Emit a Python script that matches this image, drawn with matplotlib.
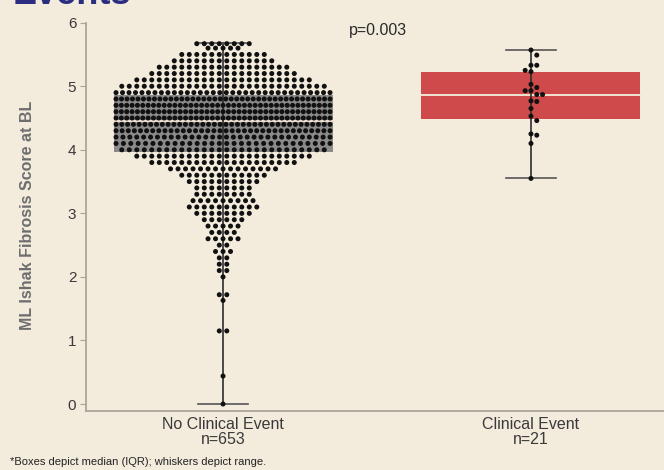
import numpy as np
import matplotlib
matplotlib.use("Agg")
import matplotlib.pyplot as plt
from matplotlib.patches import Rectangle

plt.rcParams['font.family'] = ['Liberation Sans', 'DejaVu Sans']

# ----------------------------------------------------------------------
# data
# ----------------------------------------------------------------------
groups = ["No Clinical Event", "Clinical Event"]
group_n = [653, 21]

# no-event group: score level -> number of patients at that level
no_event_levels = [5.67, 5.6, 5.5, 5.4, 5.3, 5.2, 5.1, 5.0, 4.9,
                   4.8, 4.7, 4.6, 4.5, 4.4, 4.3, 4.2, 4.1, 4.0,
                   3.9, 3.8, 3.7, 3.6, 3.5, 3.4, 3.3, 3.2, 3.1, 3.0,
                   2.9, 2.8, 2.7, 2.6, 2.5, 2.4, 2.3, 2.2, 2.1, 2.0,
                   1.72, 1.63, 1.15, 0.44, 0.0]
no_event_counts = [8, 5, 12, 14, 18, 20, 24, 28, 34,
                   40, 41, 41, 41, 38, 36, 32, 30, 28,
                   24, 20, 15, 12, 10, 8, 8, 9, 10, 8,
                   6, 5, 4, 5, 2, 3, 2, 2, 2, 1,
                   2, 1, 2, 1, 1]

event_scores = [5.57, 5.49, 5.33, 5.33, 5.25, 5.23, 5.03, 4.98, 4.93, 4.93,
                4.87, 4.87, 4.77, 4.76, 4.65, 4.53, 4.46, 4.25, 4.23, 4.10, 3.55]

# box stats: q1, median, q3, min, max
box_q1 = [3.96, 4.49]
box_med = [4.46, 4.87]
box_q3 = [4.87, 5.23]
whisk_lo = [0.0, 3.55]
whisk_hi = [5.68, 5.57]

box_colors = ['#8b8b8b', '#cf4a4a']
bg = '#f3ebdc'

# ----------------------------------------------------------------------
# figure
# ----------------------------------------------------------------------
W, H = 664, 470
fig = plt.figure(figsize=(W / 100, H / 100), dpi=100, facecolor=bg)
ax_l, ax_r, ax_b, ax_t = 86, 664, 411, 22.7
ax = fig.add_axes([ax_l / W, 1 - ax_b / H, (ax_r - ax_l) / W, (ax_b - ax_t) / H])
ax.set_facecolor(bg)
xmin, xmax = -0.445, 1.432
ymin, ymax = -0.11, 6.0
ax.set_xlim(xmin, xmax)
ax.set_ylim(ymin, ymax)
px_x = (ax_r - ax_l) / (xmax - xmin)   # pixels per x unit
px_y = (ax_b - ax_t) / (ymax - ymin)   # pixels per y unit

half_w = 109.5 / px_x
cap_w = 25 / px_x

for i in range(2):
    ax.add_patch(Rectangle((i - half_w, box_q1[i]), 2 * half_w, box_q3[i] - box_q1[i],
                           facecolor=box_colors[i], edgecolor='none', zorder=1))
    ax.plot([i - half_w, i + half_w], [box_med[i], box_med[i]], color='#f1e3d3', lw=1.4, zorder=2)
    ax.plot([i, i], [whisk_lo[i], whisk_hi[i]], color='#2e2e2e', lw=1.2, zorder=2)
    for yv in (whisk_lo[i], whisk_hi[i]):
        ax.plot([i - cap_w, i + cap_w], [yv, yv], color='#555555', lw=1.2, zorder=2)

# no-event swarm: one row per level, centred on the group
xs, ys = [], []
for lv, cnt in zip(no_event_levels, no_event_counts):
    dx = min(7.5, 214 / max(cnt - 1, 1)) / px_x
    offs = (np.arange(cnt) - (cnt - 1) / 2) * dx
    xs.extend(0 + offs)
    ys.extend([lv] * cnt)
ax.scatter(xs, ys, s=13, color='#111111', edgecolors='none', zorder=3, clip_on=False)

# event swarm: simple beeswarm in pixel space
d = 5.8
placed = []
ex = []
for v in event_scores:
    py = v * px_y
    k = 0
    while True:
        step = ((k + 1) // 2) * (1 if k % 2 else -1) * d if k else 0
        if all((step - qx) ** 2 + (py - qy) ** 2 >= d * d for qx, qy in placed):
            break
        k += 1
    placed.append((step, py))
    ex.append(1 + step / px_x)
ax.scatter(ex, event_scores, s=13, color='#111111', edgecolors='none', zorder=3, clip_on=False)

# axes styling
for s in ('top', 'right'):
    ax.spines[s].set_visible(False)
for s in ('left', 'bottom'):
    ax.spines[s].set_color('#aaa59c')
    ax.spines[s].set_linewidth(1.3)
ax.set_yticks([0, 1, 2, 3, 4, 5, 6])
ax.tick_params(axis='y', length=4, color='#aaa59c', labelsize=11, labelcolor='#3a3a3a', pad=3)
ax.set_xticks([0, 1])
ax.set_xticklabels([f"{g}\nn={n}" for g, n in zip(groups, group_n)],
                   fontsize=11.5, color='#3a3a3a', linespacing=1.0)
ax.tick_params(axis='x', length=0, pad=4)

fig.text(28 / W, 1 - 215 / H, "ML Ishak Fibrosis Score at BL", rotation=90,
         ha='center', va='center', fontsize=11.5, fontweight='bold', color='#6e6e6e')
ax.text(0.503, 5.885, "p=0.003", ha='center', va='center', fontsize=11.5, color='#2a2a2a')
fig.text(10 / W, 1 - 462 / H, "*Boxes depict median (IQR); whiskers depict range.",
         ha='left', va='center', fontsize=8, color='#222222')
# slide title, only its lower edge is inside the crop
fig.text(13 / W, 1 - 3.5 / H, "Events", ha='left', va='baseline', fontsize=26,
         fontweight='bold', color='#2b2e80')

fig.savefig("out.png", dpi=100, facecolor=bg)
